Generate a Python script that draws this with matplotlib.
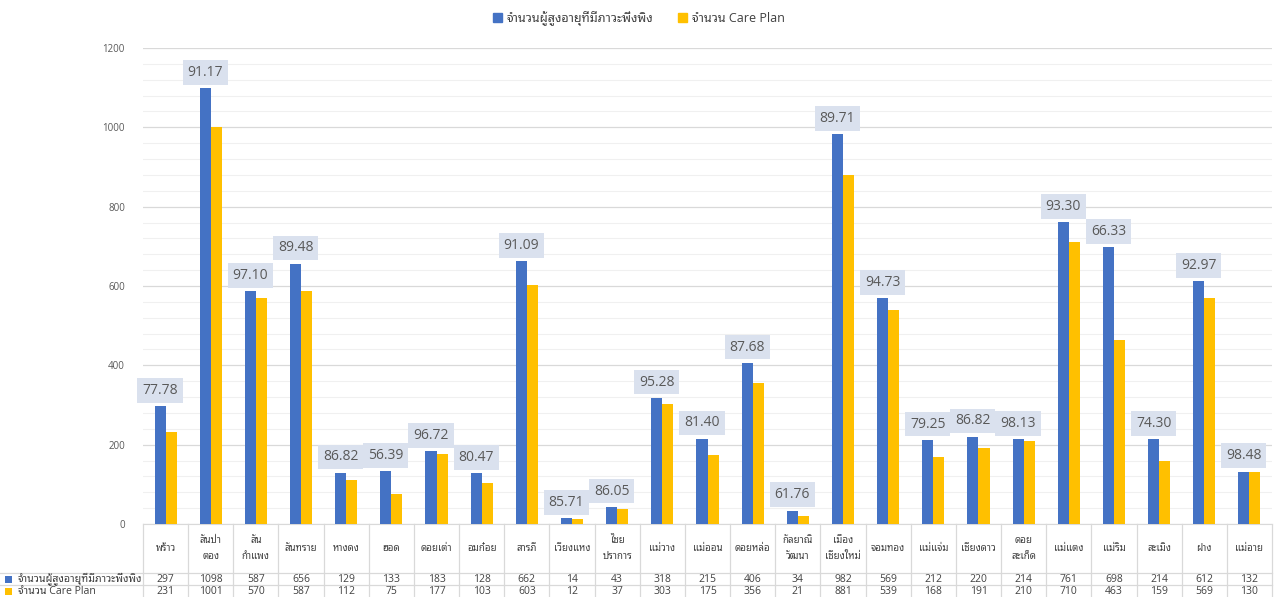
import matplotlib
matplotlib.use("Agg")
import matplotlib.pyplot as plt
from matplotlib.patches import Patch, Rectangle
from matplotlib import transforms
import numpy as np

FONT = ['Open Sans', 'Noto Sans Thai Looped', 'Noto Sans Thai', 'Loma', 'DejaVu Sans']
plt.rcParams['font.family'] = FONT

# district names (as shown in the table, with line breaks)
districts = ["พร้าว", "สันป่า\nตอง", "สัน\nกำแพง", "สันทราย", "หางดง", "ฮอด", "ดอยเต่า",
             "อมก๋อย", "สารภี", "เวียงแหง", "ไชย\nปราการ", "แม่วาง", "แม่ออน", "ดอยหล่อ",
             "กัลยาณิ\nวัฒนา", "เมือง\nเชียงใหม่", "จอมทอง", "แม่แจ่ม", "เชียงดาว",
             "ดอย\nสะเก็ด", "แม่แตง", "แม่ริม", "สะเมิง", "ฝาง", "แม่อาย"]
dependent = [297, 1098, 587, 656, 129, 133, 183, 128, 662, 14, 43, 318, 215, 406, 34,
             982, 569, 212, 220, 214, 761, 698, 214, 612, 132]
care_plan = [231, 1001, 570, 587, 112, 75, 177, 103, 603, 12, 37, 303, 175, 356, 21,
             881, 539, 168, 191, 210, 710, 463, 159, 569, 130]
percent = ["77.78", "91.17", "97.10", "89.48", "86.82", "56.39", "96.72", "80.47", "91.09",
           "85.71", "86.05", "95.28", "81.40", "87.68", "61.76", "89.71", "94.73", "79.25",
           "86.82", "98.13", "93.30", "66.33", "74.30", "92.97", "98.48"]
series_names = ["จำนวนผู้สูงอายุที่มีภาวะพึ่งพิง", "จำนวน Care Plan"]

BLUE = "#4472C4"
YELLOW = "#FFC000"
TXT = "#404040"
LINE = "#D9D9D9"

W, H = 1278, 597
fig = plt.figure(figsize=(W / 100, H / 100), dpi=100)
ax = fig.add_axes([143 / W, 73 / H, (1272 - 143) / W, (524 - 48) / H])

x = np.arange(len(districts))
bw = 0.245
ax.bar(x - bw / 2, dependent, bw, color=BLUE, zorder=3)
ax.bar(x + bw / 2, care_plan, bw, color=YELLOW, zorder=3)

ax.set_xlim(-0.5, len(districts) - 0.5)
ax.set_ylim(0, 1200)
ax.set_yticks(np.arange(0, 1201, 200))
ax.set_yticks(np.arange(0, 1201, 40), minor=True)
ax.grid(axis='y', which='major', color=LINE, lw=0.9, zorder=0)
ax.grid(axis='y', which='minor', color='#F0F0F0', lw=0.8, zorder=0)
ax.set_xticks([])
for s in ['top', 'right', 'left']:
    ax.spines[s].set_visible(False)
ax.spines['bottom'].set_color(LINE)
ax.tick_params(axis='y', which='both', length=0, labelsize=7, labelcolor='#595959', pad=13)

# percentage labels above the blue bars
for xi, v, p in zip(x, dependent, percent):
    ax.annotate(p, (xi - bw / 2, v), xytext=(0, 6), textcoords='offset points',
                ha='center', va='bottom', fontsize=10, color='#595959', zorder=4,
                bbox=dict(boxstyle='square,pad=0.35', fc='#DAE1EE', ec='none'))

# data table under the chart
tr = transforms.blended_transform_factory(ax.transData, fig.transFigure)
trf = fig.transFigure
row_y = [73 / H, 24 / H, 12 / H, 0]
for xb in np.arange(-0.5, len(districts), 1.0):
    ax.plot([xb, xb], [row_y[0], 0], transform=tr, color=LINE, lw=0.9, clip_on=False)
for yb in row_y[1:3]:
    fig.add_artist(plt.Line2D([0, 1272 / W], [yb, yb], transform=trf, color=LINE, lw=0.9))

for xi, name, d, c in zip(x, districts, dependent, care_plan):
    ax.text(xi, (row_y[0] + row_y[1]) / 2, name, transform=tr, ha='center', va='center',
            fontsize=7, color=TXT, linespacing=1.6)
    ax.text(xi, (row_y[1] + row_y[2]) / 2, str(d), transform=tr, ha='center', va='center',
            fontsize=7.5, color=TXT)
    ax.text(xi, (row_y[2] + row_y[3]) / 2, str(c), transform=tr, ha='center', va='center',
            fontsize=7.5, color=TXT)

for i, (nm, col) in enumerate(zip(series_names, [BLUE, YELLOW])):
    yc = (row_y[i + 1] + row_y[i + 2]) / 2
    fig.add_artist(Rectangle((5 / W, yc - 3.5 / H), 7 / W, 7 / H, transform=trf,
                             color=col, lw=0))
    fig.text(18 / W, yc, nm, ha='left', va='center', fontsize=7.6, color=TXT)

# legend
handles = [Patch(color=BLUE), Patch(color=YELLOW)]
fig.legend(handles, series_names, loc='upper center', bbox_to_anchor=(0.5, 1.0), ncol=2,
           frameon=False, fontsize=9, handlelength=0.7, handleheight=0.7,
           handletextpad=0.4, columnspacing=2.0, labelcolor='#404040')

fig.savefig("out.png", dpi=100)
